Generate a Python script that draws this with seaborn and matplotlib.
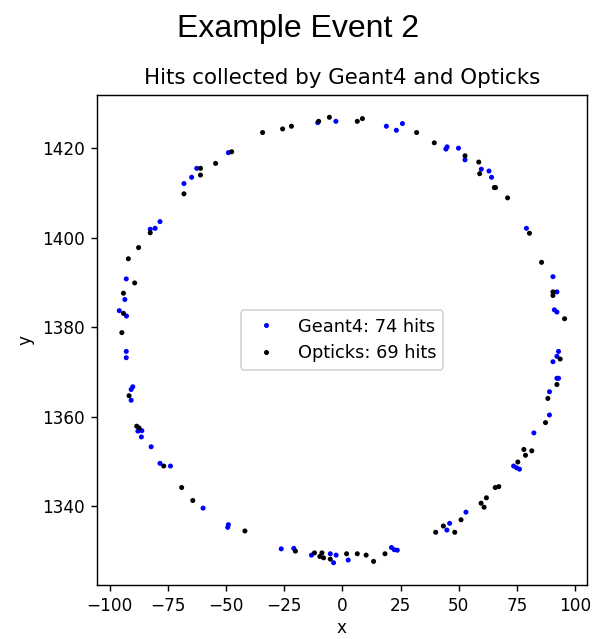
import matplotlib
matplotlib.use("Agg")
import matplotlib.pyplot as plt
import seaborn as sns
import pandas as pd

geant4_x = [-49.0, -62.6, -64.8, -68.1, -78.4, -80.5, -82.6,
            -10.6, -2.8, 18.9, 23.2, 25.8,
            44.5, 45.0, 49.9, 52.7, 59.7, 63.0, 64.1, 79.1,
            -92.9, -93.5, -95.9, -92.8, -92.9, -92.9, -90.1, -90.8, -90.8,
            90.5, 92.2, 91.1, 92.2, 92.9, 92.2, 90.5, 92.2, 92.9, 89.0, 89.0,
            -87.9, -86.2, -86.4, -82.2, -78.4, -73.9, -59.9, -49.0, -49.3,
            -26.3, -20.9, -13.3, -5.2, -2.7, -3.8, 2.5, 21.1, 22.3, 23.6,
            82.3, 73.6, 74.9, 76.1, 53.1, 46.1, 44.9]
geant4_y = [1419.0, 1415.5, 1413.5, 1412.1, 1403.6, 1402.1, 1401.9,
            1425.7, 1426.0, 1424.9, 1424.0, 1425.5,
            1419.8, 1420.3, 1420.0, 1417.4, 1415.3, 1414.9, 1413.5, 1402.1,
            1390.8, 1386.2, 1383.7, 1382.5, 1374.6, 1373.2, 1366.7, 1366.1, 1363.7,
            1391.3, 1387.9, 1383.9, 1383.4, 1374.6, 1373.5, 1372.3, 1368.6, 1368.6, 1365.6, 1360.4,
            1356.8, 1356.9, 1355.5, 1353.3, 1349.6, 1349.0, 1339.6, 1335.9, 1335.3,
            1330.5, 1330.6, 1329.1, 1329.4, 1329.1, 1327.4, 1328.0, 1330.8, 1330.3, 1330.2,
            1356.4, 1349.0, 1348.6, 1348.3, 1338.7, 1336.2, 1334.7]

opticks_x = [-34.3, -47.6, -61.0, -61.0, -54.5, -68.1, -82.6, -87.6, -92.0,
             -25.7, -21.9, -10.2, -5.6, 6.4, 8.6, 31.9,
             39.5, 52.7, 58.6, 59.0, 65.3, 65.8, 71.0, 80.4, 85.6,
             -89.3, -94.1, -94.1, -94.8, -91.7,
             90.5, 90.5, 95.5, 93.6, 92.2, 88.3, 87.3,
             -88.4, -87.4, -76.8, -69.1, -64.3, -41.9,
             -20.2, -12.0, -8.8, -9.7, -8.1, -5.2, 1.8, 6.4, 10.2, 13.4, 18.3,
             78.0, 78.7, 81.4, 75.4, 65.7, 67.2, 61.9, 59.6, 60.9, 51.0, 43.4, 40.1, 48.3]
opticks_y = [1423.5, 1419.2, 1415.5, 1414.0, 1416.6, 1409.8, 1401.1, 1397.8, 1395.3,
             1424.3, 1424.9, 1426.0, 1426.9, 1426.0, 1426.6, 1423.5,
             1421.2, 1418.3, 1416.9, 1414.3, 1411.2, 1411.2, 1408.9, 1401.0, 1394.5,
             1389.9, 1387.6, 1383.1, 1378.8, 1364.7,
             1387.9, 1387.1, 1381.9, 1372.9, 1367.2, 1364.1, 1358.7,
             1357.9, 1357.5, 1349.0, 1344.2, 1341.3, 1334.5,
             1330.0, 1329.6, 1329.6, 1328.8, 1328.5, 1328.2, 1329.4, 1329.4, 1329.1, 1327.7, 1329.4,
             1352.7, 1351.4, 1352.4, 1349.9, 1344.2, 1344.4, 1341.9, 1340.7, 1339.8, 1337.0, 1335.6, 1334.2, 1334.2]

series_labels = ["Geant4: 74 hits", "Opticks: 69 hits"]
series_colors = ["blue", "black"]

df = pd.concat([
    pd.DataFrame({"x": geant4_x, "y": geant4_y, "src": series_labels[0]}),
    pd.DataFrame({"x": opticks_x, "y": opticks_y, "src": series_labels[1]}),
], ignore_index=True)

DPI = 128
fig = plt.figure(figsize=(597 / DPI, 639 / DPI), dpi=DPI)
ax = fig.add_axes([0.1625, 0.0845, 0.8205, 0.7668])
sns.scatterplot(data=df, x="x", y="y", hue="src", hue_order=series_labels,
                palette=dict(zip(series_labels, series_colors)),
                s=8, linewidth=0, ax=ax)
ax.set_title("Hits collected by Geant4 and Opticks")
ax.set_xlabel("x", fontsize=9.5, labelpad=2)
ax.set_ylabel("y", fontsize=9.5)
ax.set_xticks([-100, -75, -50, -25, 0, 25, 50, 75, 100])
ax.set_yticks([1340, 1360, 1380, 1400, 1420])
ax.tick_params(labelsize=9.5)
ax.legend(loc="center")
fig.suptitle("Example Event 2", fontsize=18, y=0.978,
             family=["Liberation Sans", "DejaVu Sans"])
fig.savefig("out.png", dpi=DPI)
